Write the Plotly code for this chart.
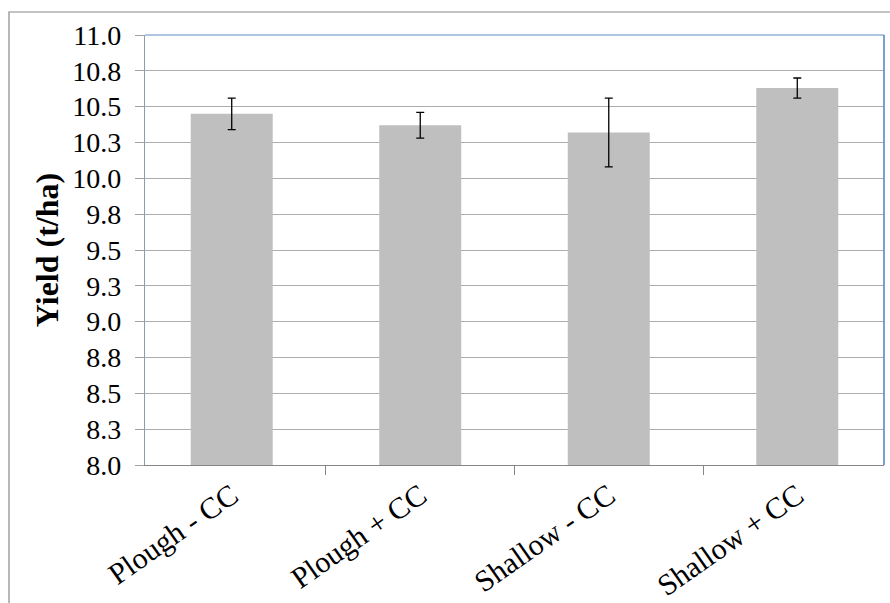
import plotly.graph_objects as go

categories = ["Plough - CC", "Plough + CC", "Shallow - CC", "Shallow + CC"]
yield_values = [10.45, 10.37, 10.32, 10.63]
yield_errors = [0.11, 0.09, 0.24, 0.07]
y_tick_values = [8.0, 8.25, 8.5, 8.75, 9.0, 9.25, 9.5, 9.75, 10.0, 10.25, 10.5, 10.75, 11.0]
y_tick_labels = ["8.0", "8.3", "8.5", "8.8", "9.0", "9.3", "9.5", "9.8",
                 "10.0", "10.3", "10.5", "10.8", "11.0"]

W, H = 890, 603
ML, MR, MT, MB = 145, 6, 35, 138
PW, PH = W - ML - MR, H - MT - MB

def px_x(p):
    return (p - ML) / PW

def px_y(p):
    return (H - MB - p) / PH

fig = go.Figure(go.Bar(
    x=categories,
    y=yield_values,
    marker=dict(color="#BFBFBF", line=dict(width=0)),
    error_y=dict(type="data", array=yield_errors, visible=True,
                 color="#000000", thickness=1.3, width=4),
))

serif = "Liberation Serif, Times New Roman, serif"

fig.update_layout(
    width=W, height=H,
    margin=dict(l=ML, r=MR, t=MT, b=MB, autoexpand=False),
    paper_bgcolor="white", plot_bgcolor="white",
    bargap=0.565,
    showlegend=False,
    font=dict(family=serif, size=28, color="black"),
    xaxis=dict(
        type="category",
        range=[-0.46, 3.46],
        showline=True, linecolor="#868686", linewidth=1.3,
        ticks="outside", ticklen=9, tickcolor="#868686", tickwidth=1,
        tickson="boundaries",
        showgrid=False,
        tickangle=-35,
        tickfont=dict(family=serif, size=30, color="black"),
        automargin=False,
    ),
    yaxis=dict(
        range=[8.0, 11.0],
        tickvals=y_tick_values, ticktext=y_tick_labels,
        showline=True, linecolor="#8C9BB0", linewidth=1.3,
        ticks="outside", ticklen=9, tickcolor="#A0A0A0", tickwidth=1,
        showgrid=True, gridcolor="#ADADAD", gridwidth=1.2,
        zeroline=False,
        tickfont=dict(family=serif, size=28, color="black"),
        ticklabelstandoff=8,
        title=dict(text="<b>Yield (t/ha)</b>", standoff=4,
                   font=dict(family=serif, size=32, color="black")),
        automargin=False,
    ),
    shapes=[
        # plot-area top border
        dict(type="line", xref="paper", yref="paper", x0=0, x1=1, y0=1, y1=1,
             line=dict(color="#95B3D7", width=1.5)),
        # plot-area right border
        dict(type="line", xref="paper", yref="paper", x0=1, x1=1, y0=0, y1=1,
             line=dict(color="#4F81BD", width=1.5)),
        # outer chart border
        dict(type="rect", xref="paper", yref="paper",
             x0=px_x(9), x1=px_x(900), y0=px_y(620), y1=px_y(12),
             line=dict(color="#898989", width=1.2), fillcolor="rgba(0,0,0,0)",
             layer="below"),
    ],
)

fig.write_html(
    "out.html",
    config={"displayModeBar": False},
    post_script="document.body.style.margin='0';document.body.style.overflow='hidden';",
)
